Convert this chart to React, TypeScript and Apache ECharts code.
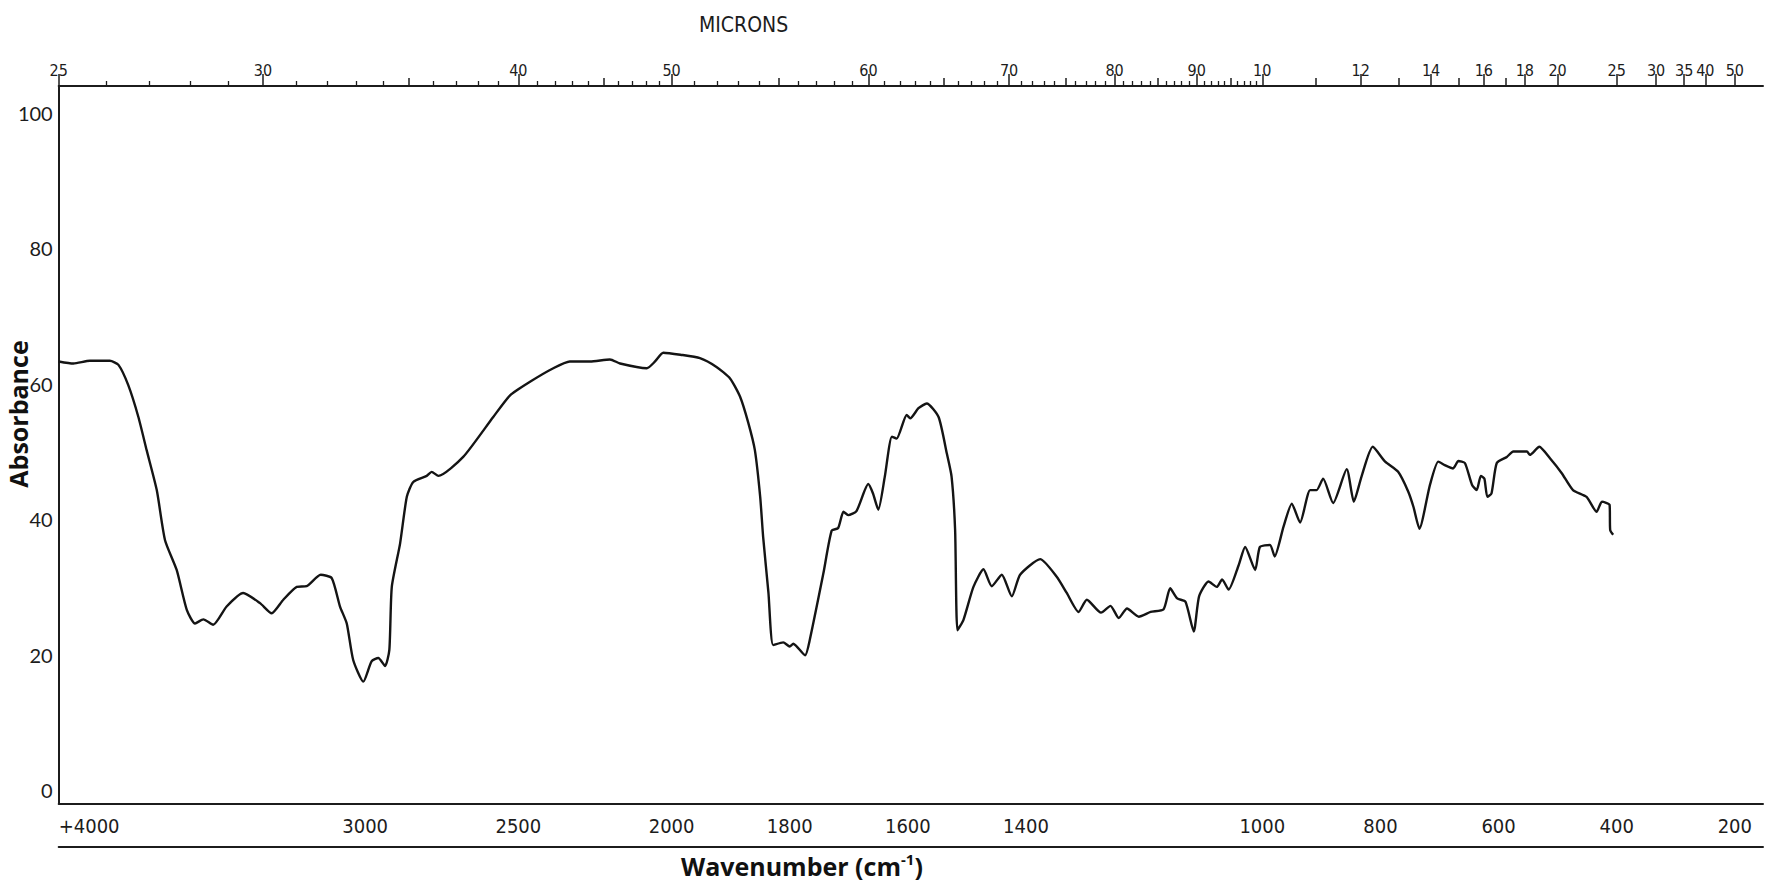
import React, { useEffect, useRef } from 'react';
import * as echarts from 'echarts';

// ---- Data (wavenumber in cm-1, absorbance) ----
const WAVENUMBERS = [
  4000, 3952, 3898, 3833, 3805, 3773, 3740, 3713, 3680, 3653, 3615, 3582, 3555, 3528, 3496,
  3452, 3398, 3343, 3305, 3267, 3223, 3191, 3145, 3109, 3082, 3060, 3039, 3006, 2979, 2957,
  2935, 2921, 2913, 2886, 2864, 2843, 2799, 2783, 2761, 2680, 2582, 2527, 2462, 2386, 2332,
  2266, 2201, 2168, 2081, 2054, 2027, 1985, 1952, 1924, 1901, 1884, 1870, 1859, 1850, 1845,
  1836, 1828, 1811, 1800, 1794, 1774, 1766, 1743, 1729, 1718, 1709, 1701, 1687, 1667, 1659,
  1650, 1639, 1627, 1619, 1602, 1596, 1582, 1568, 1548, 1534, 1526, 1520, 1516, 1506, 1489,
  1472, 1458, 1441, 1424, 1410, 1376, 1348, 1331, 1311, 1297, 1273, 1257, 1243, 1229, 1209,
  1189, 1167, 1156, 1144, 1130, 1116, 1107, 1091, 1077, 1068, 1057, 1040, 1029, 1012, 1004,
  987, 979, 964, 950, 936, 919, 908, 897, 880, 857, 845, 832, 813, 792, 770,
  753, 744, 734, 716, 702, 691, 677, 668, 657, 645, 637, 630, 624, 619, 612,
  603, 586, 575, 552, 547, 531, 513, 493, 474, 451, 434, 425, 412, 411, 406,
];
const ABSORBANCE = [
  63.3, 63.0, 63.4, 63.4, 62.8, 59.8, 55.1, 50.2, 44.3, 36.9, 32.5, 26.6, 24.6, 25.2, 24.4,
  27.1, 29.1, 27.6, 26.1, 28.1, 30.0, 30.1, 31.8, 31.3, 27.1, 24.6, 19.2, 16.0, 19.0, 19.5,
  18.3, 20.7, 30.0, 36.4, 43.3, 45.5, 46.4, 47.0, 46.4, 49.2, 55.1, 58.3, 60.3, 62.3, 63.3,
  63.3, 63.6, 63.0, 62.3, 63.3, 64.6, 64.3, 63.8, 62.5, 60.8, 58.1, 54.2, 50.2, 43.3, 37.4,
  29.1, 21.4, 21.8, 21.2, 21.6, 19.9, 22.2, 32.0, 38.3, 38.7, 41.1, 40.6, 41.2, 45.2, 43.8,
  41.4, 46.3, 52.2, 51.9, 55.4, 54.9, 56.4, 57.1, 55.1, 49.7, 46.3, 38.4, 23.6, 25.1, 30.0,
  32.6, 30.1, 31.8, 28.6, 31.8, 34.1, 31.5, 29.1, 26.3, 28.1, 26.2, 27.2, 25.4, 26.8, 25.6,
  26.3, 26.7, 29.8, 28.3, 27.8, 23.4, 28.6, 30.8, 30.0, 31.1, 29.6, 33.2, 35.9, 32.5, 35.9,
  36.2, 34.5, 38.9, 42.3, 39.5, 44.3, 44.3, 46.0, 42.4, 47.4, 42.6, 46.3, 50.7, 48.5, 47.0,
  44.1, 41.8, 38.6, 45.1, 48.5, 48.0, 47.5, 48.6, 48.3, 45.1, 44.3, 46.4, 46.0, 43.3, 43.8,
  48.3, 49.2, 50.0, 50.0, 49.5, 50.7, 49.0, 46.8, 44.3, 43.3, 41.1, 42.6, 42.1, 38.4, 37.7,
];

// ---- Tick labels ----
const WAVENUMBER_TICKS = [4000, 3000, 2500, 2000, 1800, 1600, 1400, 1000, 800, 600, 400, 200];
const MICRON_TICKS = [2.5, 3, 4, 5, 6, 7, 8, 9, 10, 12, 14, 16, 18, 20, 25, 30, 35, 40, 50];
const MICRON_LABELS = ['25', '30', '40', '50', '60', '70', '80', '90', '10', '12', '14', '16', '18', '20', '25', '30', '35', '40', '50'];
const MICRON_MID_TICKS = [3.5, 4.5, 5.5, 6.5, 7.5, 8.5, 9.5, 11, 13, 15, 17];
const ABSORBANCE_TICKS = [0, 20, 40, 60, 80, 100];

// ---- Axis scale (grating change at 2000 cm-1: lower range expanded) ----
const SCALE_BREAK = 2000;
const SCALE_START = 4000;
const LOW_EXPANSION = 1.9276;
const SCALE_MAX = 5561.6;
function toScale(w: number): number {
  return w >= SCALE_BREAK ? SCALE_START - w : (SCALE_START - SCALE_BREAK) + (SCALE_BREAK - w) * LOW_EXPANSION;
}
function micronToScale(m: number): number {
  return toScale(10000 / m);
}
const MICRON_MINOR_TICKS: number[] = [];
for (let t = 26; t < 100; t++) {
  if (t % 5 !== 0) MICRON_MINOR_TICKS.push(t / 10);
}

const NARROW = "'Liberation Sans Narrow','DejaVu Sans Condensed',Roboto,sans-serif";
const INK = '#1c1c1c';

function nearestLabel(value: number, positions: number[], labels: string[]): string {
  let best = -1;
  let bd = Infinity;
  positions.forEach((p, i) => {
    const d = Math.abs(p - value);
    if (d < bd) { bd = d; best = i; }
  });
  return bd < 2 ? labels[best] : '';
}

export default function App() {
  const ref = useRef<HTMLDivElement>(null);
  useEffect(() => {
    if (!ref.current) return;
    const chart = echarts.init(ref.current, undefined, { renderer: 'svg' });
    const wnPos = WAVENUMBER_TICKS.map(toScale);
    const wnLabels = WAVENUMBER_TICKS.map((w) => (w === 4000 ? '+4000' : String(w)));
    const muPos = MICRON_TICKS.map(micronToScale);
    const baseX = {
      type: 'value',
      min: 0,
      max: SCALE_MAX,
      splitLine: { show: false },
    };
    const option: any = {
      animation: false,
      backgroundColor: '#ffffff',
      title: [
        {
          text: 'MICRONS',
          left: 694,
          top: 9,
          textStyle: { fontFamily: NARROW, fontSize: 21, fontWeight: 'normal', color: INK },
        },
        {
          text: '{a|Wavenumber (cm}{s|-1}{a|)}',
          left: 681,
          top: 851,
          padding: 0,
          textStyle: {
            rich: {
              a: { fontSize: 25, fontWeight: 'bold', fontFamily: "'Open Sans',sans-serif", color: '#111', lineHeight: 29 },
              s: { fontSize: 15, fontWeight: 'bold', fontFamily: "'Open Sans',sans-serif", color: '#111', verticalAlign: 'top', lineHeight: 15 },
            },
          },
        },
      ],
      grid: { left: 58.7, right: 7, top: 86, bottom: 81.5, containLabel: false, outerBoundsMode: 'none' },
      xAxis: [
        {
          ...baseX,
          position: 'bottom',
          axisLine: { show: true, onZero: false, lineStyle: { color: INK, width: 2 } },
          axisTick: { show: false },
          axisLabel: {
            customValues: wnPos,
            formatter: (v: number) => nearestLabel(v, wnPos, wnLabels),
            margin: 12,
            fontFamily: NARROW,
            fontSize: 20,
            color: INK,
            alignMinLabel: 'left',
          },
        },
        {
          ...baseX,
          position: 'bottom',
          offset: 43,
          axisLine: { show: true, onZero: false, lineStyle: { color: INK, width: 2 } },
          axisTick: { show: false },
          axisLabel: { show: false },
        },
        {
          ...baseX,
          position: 'top',
          axisLine: { show: true, onZero: false, lineStyle: { color: INK, width: 2 } },
          axisTick: { show: true, customValues: muPos, length: 12, lineStyle: { color: INK, width: 1.5 } },
          axisLabel: {
            customValues: muPos,
            formatter: (v: number) => nearestLabel(v, muPos, MICRON_LABELS),
            margin: 8,
            fontFamily: NARROW,
            fontSize: 16,
            color: INK,
          },
        },
        {
          ...baseX,
          position: 'top',
          axisLine: { show: false, onZero: false },
          axisTick: { show: true, customValues: MICRON_MID_TICKS.map(micronToScale), length: 8, lineStyle: { color: INK, width: 1.5 } },
          axisLabel: { show: false },
        },
        {
          ...baseX,
          position: 'top',
          axisLine: { show: false, onZero: false },
          axisTick: { show: true, customValues: MICRON_MINOR_TICKS.map(micronToScale), length: 5, lineStyle: { color: INK, width: 1.3 } },
          axisLabel: { show: false },
        },
      ],
      yAxis: {
        type: 'value',
        min: -2,
        max: 104,
        axisLine: { show: true, onZero: false, lineStyle: { color: INK, width: 2 } },
        axisTick: { show: false },
        splitLine: { show: false },
        axisLabel: {
          customValues: ABSORBANCE_TICKS,
          margin: 6,
          fontSize: 20,
          fontFamily: "Lato,'Open Sans',sans-serif",
          color: INK,
        },
      },
      graphic: [
        {
          type: 'text',
          x: 18,
          y: 414,
          rotation: Math.PI / 2,
          style: {
            text: 'Absorbance',
            fontSize: 25,
            fontWeight: 'bold',
            fontFamily: "'Open Sans',sans-serif",
            fill: '#111',
            align: 'center',
            verticalAlign: 'middle',
            textAlign: 'center',
            textVerticalAlign: 'middle',
          },
        },
      ],
      series: [
        {
          type: 'line',
          xAxisIndex: 0,
          yAxisIndex: 0,
          data: WAVENUMBERS.map((w, i) => [toScale(w), ABSORBANCE[i]]),
          showSymbol: false,
          smooth: 0.2,
          lineStyle: { color: '#141414', width: 2.4 },
        },
      ],
    };
    chart.setOption(option);
    return () => chart.dispose();
  }, []);
  return (
    <div
      ref={ref}
      style={{ position: 'fixed', left: 0, top: 0, width: 1770, height: 885, background: '#fff' }}
    />
  );
}
